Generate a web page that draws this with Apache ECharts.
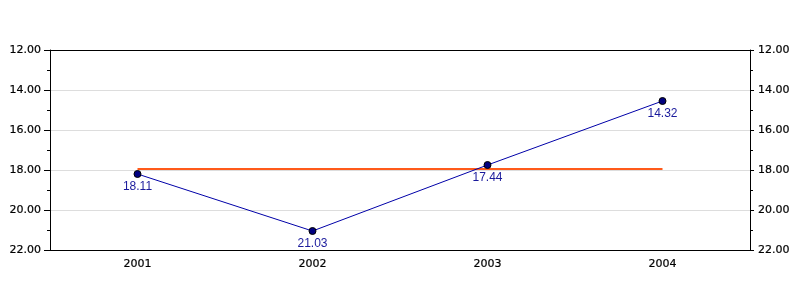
<!DOCTYPE html>
<html><head><meta charset="utf-8">
<script src="https://cdn.jsdelivr.net/npm/echarts@6/dist/echarts.min.js"></script>
<style>html,body{margin:0;padding:0;background:#fff}#c{width:800px;height:300px}</style>
</head><body><div id="c"></div>
<script>
const categories = ['2001', '2002', '2003', '2004'];
const values = [18.2, 21.05, 17.75, 14.55];
const valueLabels = ['18.11', '21.03', '17.44', '14.32'];
const referenceLevel = [17.95, 17.95, 17.95, 17.95];
const yMin = 12, yMax = 22, yStep = 2;

const axisFont = {fontFamily: 'DejaVu Sans', fontSize: 11, color: '#000', textBorderColor: '#000', textBorderWidth: 0.2};
function yAxis(pos, tickLen) {
  return {
    type: 'value', position: pos, inverse: true, min: yMin, max: yMax, interval: yStep,
    axisLine: {show: true, lineStyle: {color: '#000', width: 1}},
    axisTick: {show: true, length: tickLen, lineStyle: {color: '#000'}},
    minorTick: {show: true, splitNumber: 2, length: 3, lineStyle: {color: '#000'}},
    splitLine: {show: pos === 'left', lineStyle: {color: '#dddddd', width: 1}},
    axisLabel: Object.assign({formatter: v => v.toFixed(2), margin: pos === 'left' ? 9 : 8}, axisFont)
  };
}
const chart = echarts.init(document.getElementById('c'), null, {renderer: 'canvas'});
chart.setOption({
  animation: false,
  grid: {left: 50, right: 50, top: 50, bottom: 50},
  xAxis: [{
    type: 'category', data: categories, boundaryGap: true, position: 'bottom',
    axisLine: {lineStyle: {color: '#000'}},
    axisTick: {alignWithLabel: true, length: 4, lineStyle: {color: '#000'}},
    axisLabel: Object.assign({margin: 9}, axisFont)
  }, {
    type: 'category', data: categories, boundaryGap: true, position: 'top',
    axisLine: {lineStyle: {color: '#000'}},
    axisTick: {show: false}, axisLabel: {show: false}
  }],
  yAxis: [yAxis('left', 6), yAxis('right', 4)],
  series: [
    {
      type: 'line', data: referenceLevel, symbol: 'none', z: 2,
      lineStyle: {color: '#ff5a1a', width: 2}
    },
    {
      type: 'line', data: values, z: 3,
      symbol: 'circle', symbolSize: 7,
      itemStyle: {color: '#000080', borderColor: '#000', borderWidth: 1},
      lineStyle: {color: '#0000a8', width: 1},
      label: {
        show: true, position: 'bottom', distance: 3,
        formatter: p => valueLabels[p.dataIndex],
        color: '#1a1a9c', fontFamily: 'Liberation Sans', fontSize: 12
      }
    }
  ]
});
</script></body></html>
